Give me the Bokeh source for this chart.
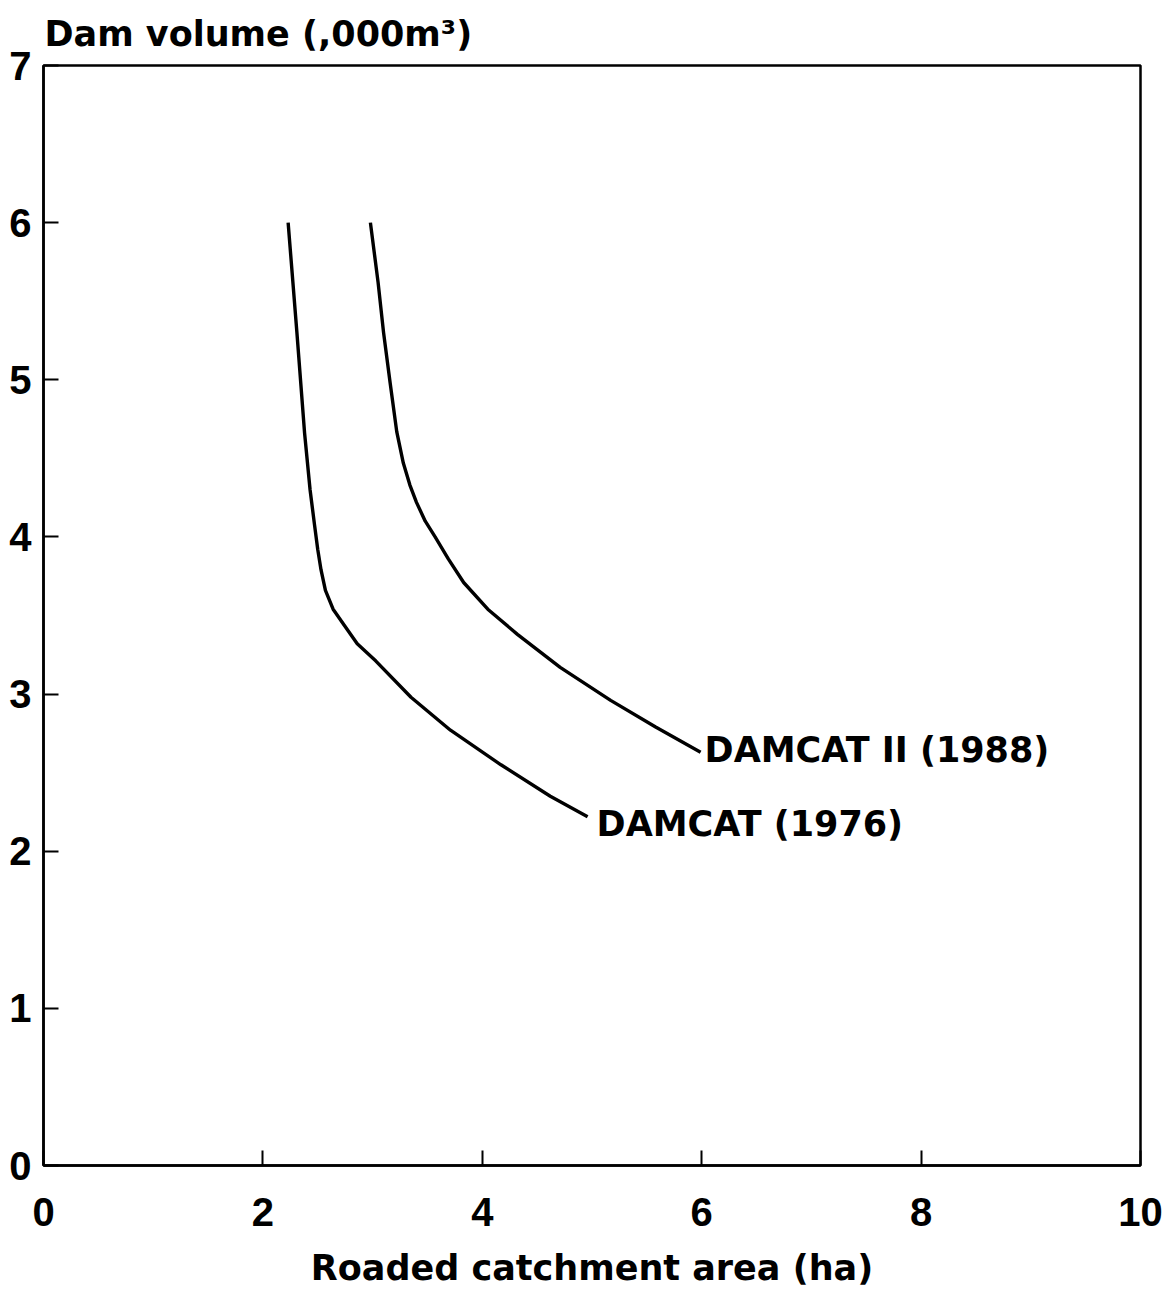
from bokeh.plotting import figure
from bokeh.models import Range1d, Label, FixedTicker
from bokeh.embed import file_html
from bokeh.resources import INLINE

# ---- data ----
damcat_1976_x = [2.23, 2.31, 2.38, 2.43, 2.47, 2.50, 2.53, 2.57, 2.64, 2.74, 2.86, 3.03,
                 3.35, 3.71, 4.17, 4.62, 4.96]
damcat_1976_y = [6.00, 5.30, 4.66, 4.30, 4.08, 3.92, 3.79, 3.66, 3.54, 3.44, 3.32, 3.21,
                 2.98, 2.77, 2.55, 2.35, 2.22]

damcat_ii_1988_x = [2.98, 3.05, 3.10, 3.16, 3.22, 3.28, 3.34, 3.40, 3.48, 3.57, 3.69, 3.83,
                    4.05, 4.32, 4.71, 5.17, 5.58, 5.99]
damcat_ii_1988_y = [6.00, 5.62, 5.30, 4.98, 4.67, 4.47, 4.33, 4.22, 4.10, 4.00, 3.86, 3.71,
                    3.54, 3.38, 3.17, 2.96, 2.79, 2.63]

series_names = ["DAMCAT (1976)", "DAMCAT II (1988)"]
x_ticks = [0, 2, 4, 6, 8, 10]
y_ticks = [0, 1, 2, 3, 4, 5, 6, 7]
x_title = "Roaded catchment area (ha)"
y_title = "Dam volume (,000m\u00b3)"

WORD_FONT = "DejaVu Sans"
NUM_FONT = "Liberation Sans"

p = figure(width=1165, height=1290,
           x_range=Range1d(0, 10), y_range=Range1d(0, 7),
           output_backend="svg", toolbar_location=None,
           min_border_left=43, min_border_right=25,
           min_border_top=65, min_border_bottom=124)

p.title.text = y_title
p.title.align = "left"
p.title.text_font = WORD_FONT
p.title.text_font_style = "bold"
p.title.text_font_size = "35px"
p.title.text_color = "black"
p.title.standoff = 23
p.title.offset = 1

p.background_fill_color = "white"
p.border_fill_color = "white"
p.grid.visible = False
p.outline_line_color = "black"
p.outline_line_width = 2.5

for ax in (p.xaxis, p.yaxis):
    ax.axis_line_color = "black"
    ax.axis_line_width = 2.5
    ax.major_tick_line_color = "black"
    ax.major_tick_line_width = 2
    ax.major_tick_in = 15
    ax.major_tick_out = 0
    ax.minor_tick_line_color = None
    ax.major_label_text_font = NUM_FONT
    ax.major_label_text_font_style = "bold"
    ax.major_label_text_font_size = "40px"
    ax.major_label_text_color = "black"

p.xaxis.ticker = FixedTicker(ticks=x_ticks)
p.yaxis.ticker = FixedTicker(ticks=y_ticks)
p.xaxis.major_label_standoff = 32
p.yaxis.major_label_standoff = 12

p.xaxis.axis_label = x_title
p.xaxis.axis_label_text_font = WORD_FONT
p.xaxis.axis_label_text_font_style = "bold"
p.xaxis.axis_label_text_font_size = "35px"
p.xaxis.axis_label_text_color = "black"
p.xaxis.axis_label_standoff = 19

# curves
p.line(damcat_1976_x, damcat_1976_y, line_color="black", line_width=3.4, line_join="round")
p.line(damcat_ii_1988_x, damcat_ii_1988_y, line_color="black", line_width=3.4, line_join="round")

# curve labels at the end of each curve
p.add_layout(Label(x=damcat_1976_x[-1], y=damcat_1976_y[-1], text=series_names[0],
                   x_offset=9, y_offset=-7, text_baseline="middle", text_align="left",
                   text_font=WORD_FONT, text_font_style="bold", text_font_size="35px",
                   text_color="black"))
p.add_layout(Label(x=damcat_ii_1988_x[-1], y=damcat_ii_1988_y[-1], text=series_names[1],
                   x_offset=4, y_offset=2, text_baseline="middle", text_align="left",
                   text_font=WORD_FONT, text_font_style="bold", text_font_size="35px",
                   text_color="black"))

open("out.html", "w").write(file_html(p, INLINE))
